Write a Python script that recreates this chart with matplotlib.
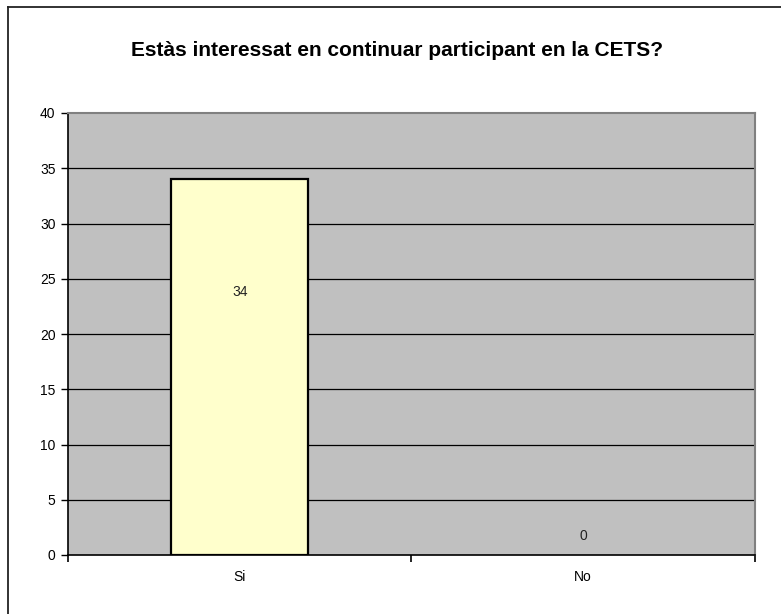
import matplotlib.pyplot as plt
from matplotlib.lines import Line2D

categories = ["Si", "No"]
values = [34, 0]
title = "Estàs interessat en continuar participant en la CETS?"
yticks = [0, 5, 10, 15, 20, 25, 30, 35, 40]

plt.rcParams["font.family"] = ["Liberation Sans", "DejaVu Sans"]

fig = plt.figure(figsize=(7.81, 6.14), dpi=100)
W, H = 781, 614
ax = fig.add_axes([68 / W, 1 - 555 / H, (755 - 68) / W, (555 - 113) / H])

ax.set_facecolor("#C0C0C0")
ax.set_xlim(-0.5, len(categories) - 0.5)
ax.set_ylim(0, 40)
ax.set_yticks(yticks)
for y in yticks[1:-1]:
    ax.axhline(y, color="black", lw=0.9, zorder=1)

xs = list(range(len(categories)))
ax.bar(xs, values, width=0.4, color="#FFFFCC",
       edgecolor=["black" if v > 0 else "none" for v in values], lw=1.6, zorder=2)

# value labels
for x, v in zip(xs, values):
    ypos = v * 0.7 if v > 0 else 1.7
    ax.text(x, ypos, str(v), ha="center", va="center", fontsize=10, color="#222222", zorder=3)

# category ticks at boundaries, labels centered
ax.set_xticks([-0.5, 0.5, 1.5])
ax.set_xticklabels([])
ax.set_xticks(xs, minor=True)
ax.set_xticklabels(categories, minor=True, fontsize=10)
ax.tick_params(axis="x", which="major", length=5, width=1.2, direction="out")
ax.tick_params(axis="x", which="minor", length=0, pad=11)
ax.tick_params(axis="y", length=5, width=1.0, direction="out", labelsize=10, pad=4)

for side in ["left", "bottom"]:
    ax.spines[side].set_color("black")
    ax.spines[side].set_linewidth(1.2)
for side in ["top", "right"]:
    ax.spines[side].set_color("#808080")
    ax.spines[side].set_linewidth(1.5)

fig.text(397.5 / W, 1 - 50 / H, title, ha="center", va="center",
         fontsize=15, fontweight="bold")

# chart border (left and top visible)
fig.add_artist(Line2D([8 / W, 8 / W], [0, 1 - 7 / H], transform=fig.transFigure,
                      color="#222222", lw=1.3))
fig.add_artist(Line2D([8 / W, 1], [1 - 7 / H, 1 - 7 / H], transform=fig.transFigure,
                      color="#222222", lw=1.3))

fig.savefig("out.png", dpi=100)
